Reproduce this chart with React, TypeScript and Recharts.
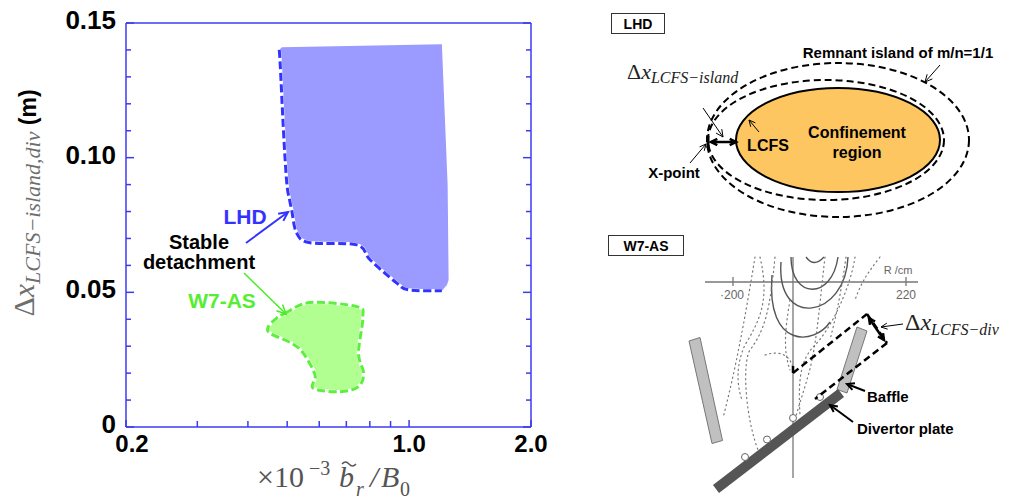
import React from "react";
import { ComposedChart, Scatter, XAxis, YAxis } from "recharts";

// axis ticks
const xTicks = [0.2, 0.3, 0.4, 0.5, 0.6, 0.7, 0.8, 0.9, 1.0, 2.0];
const xTickLabels: Record<string, string> = { "0.2": "0.2", "1": "1.0", "2": "2.0" };
const yTicks = [0, 0.01, 0.02, 0.03, 0.04, 0.05, 0.06, 0.07, 0.08, 0.09, 0.1, 0.11, 0.12, 0.13, 0.14, 0.15];
const yTickLabels: Record<number, string> = { 0: "0", 5: "0.05", 10: "0.10", 15: "0.15" };

// LHD stable detachment region: dashed boundary (top-left, down and along the bottom)
const lhdBoundary = [
  { x: 0.478, y: 0.14 },
  { x: 0.481, y: 0.1337 },
  { x: 0.49, y: 0.109 },
  { x: 0.499, y: 0.0905 },
  { x: 0.507, y: 0.0843 },
  { x: 0.513, y: 0.0806 },
  { x: 0.528, y: 0.0719 },
  { x: 0.57, y: 0.0684 },
  { x: 0.743, y: 0.0676 },
  { x: 0.802, y: 0.062 },
  { x: 0.933, y: 0.0534 },
  { x: 0.997, y: 0.0509 },
  { x: 1.205, y: 0.0506 },
];
// rest of the LHD region (no outline)
const lhdOpenEdge = [
  { x: 1.24, y: 0.0527 },
  { x: 1.252, y: 0.0546 },
  { x: 1.245, y: 0.09 },
  { x: 1.205, y: 0.1421 },
  { x: 0.485, y: 0.141 },
];
const lhdRegion = [...lhdBoundary, ...lhdOpenEdge];

// W7-AS stable detachment region (closed)
const w7asRegion = [
  { x: 0.494, y: 0.0422 },
  { x: 0.57, y: 0.0462 },
  { x: 0.743, y: 0.0447 },
  { x: 0.769, y: 0.041 },
  { x: 0.75, y: 0.0274 },
  { x: 0.772, y: 0.0199 },
  { x: 0.75, y: 0.015 },
  { x: 0.676, y: 0.0131 },
  { x: 0.58, y: 0.0144 },
  { x: 0.586, y: 0.0193 },
  { x: 0.548, y: 0.0274 },
  { x: 0.513, y: 0.0311 },
  { x: 0.454, y: 0.0348 },
  { x: 0.449, y: 0.0372 },
  { x: 0.471, y: 0.0404 },
];

const AXIS = "#3b3bf0";
const SANS = "'Liberation Sans', Arial, sans-serif";
const SERIF = "'Liberation Serif', 'Times New Roman', serif";

type Pt = { x: number; y: number };

// catmull-rom through pixel points
function smoothPath(pts: Pt[], closed: boolean): string {
  const n = pts.length;
  const get = (i: number) => (closed ? pts[(i + n) % n] : pts[Math.max(0, Math.min(n - 1, i))]);
  let d = `M${pts[0].x},${pts[0].y}`;
  const segs = closed ? n : n - 1;
  for (let i = 0; i < segs; i++) {
    const p0 = get(i - 1), p1 = get(i), p2 = get(i + 1), p3 = get(i + 2);
    const c1x = p1.x + (p2.x - p0.x) / 6;
    const c1y = p1.y + (p2.y - p0.y) / 6;
    const c2x = p2.x - (p3.x - p1.x) / 6;
    const c2y = p2.y - (p3.y - p1.y) / 6;
    d += ` C${c1x},${c1y} ${c2x},${c2y} ${p2.x},${p2.y}`;
  }
  return closed ? d + " Z" : d;
}

const regionShape = (fill: string, stroke: string, dashedCount?: number) => (props: any) => {
  const pts: Pt[] = props.points || [];
  if (pts.length < 3) return <g />;
  let fillPath: string;
  let edgePath: string;
  if (dashedCount === undefined) {
    fillPath = smoothPath(pts, true);
    edgePath = fillPath;
  } else {
    edgePath = smoothPath(pts.slice(0, dashedCount), false);
    fillPath = edgePath + " " + pts.slice(dashedCount).map((p) => `L${p.x},${p.y}`).join(" ") + " Z";
  }
  return (
    <g>
      <path d={fillPath} fill={fill} stroke="none" />
      <path d={edgePath} fill="none" stroke="#ffffff" strokeWidth={3.5} />
      <path d={edgePath} fill="none" stroke={stroke} strokeWidth={3} strokeDasharray="8 3.5" />
    </g>
  );
};

const noDot = () => <g />;

const BottomTick = (props: any) => {
  const { x, y, payload } = props;
  const label = xTickLabels[String(payload.value)];
  const isMajor = label !== undefined;
  return (
    <g>
      <line x1={x} y1={y} x2={x} y2={y - (isMajor ? 7 : 6)} stroke={AXIS} strokeWidth={1.5} />
      {label && (
        <text x={x + (payload.value === 0.2 ? 6 : 0)} y={y + 25} textAnchor="middle" fontFamily={SANS} fontWeight="bold" fontSize={24} fill="#000">
          {label}
        </text>
      )}
    </g>
  );
};

const TopTick = (props: any) => {
  const { x, y, payload } = props;
  const isMajor = xTickLabels[String(payload.value)] !== undefined;
  return <line x1={x} y1={y} x2={x} y2={y + (isMajor ? 7 : 6)} stroke={AXIS} strokeWidth={1.5} />;
};

const LeftTick = (props: any) => {
  const { x, y, payload } = props;
  const label = yTickLabels[Math.round(payload.value * 100)];
  return (
    <g>
      <line x1={x} y1={y} x2={x + (label ? 8 : 5)} y2={y} stroke={AXIS} strokeWidth={1.5} />
      {label && (
        <text x={x - 10} y={y + 6} textAnchor="end" fontFamily={SANS} fontWeight="bold" fontSize={26} fill="#000">
          {label}
        </text>
      )}
    </g>
  );
};

const RightTick = (props: any) => {
  const { x, y, payload } = props;
  const label = yTickLabels[Math.round(payload.value * 100)];
  return <line x1={x} y1={y} x2={x - (label ? 8 : 5)} y2={y} stroke={AXIS} strokeWidth={1.5} />;
};

function Arrow({ x1, y1, x2, y2, color, w = 1.5, both = false, head = 8 }: any) {
  const ang = Math.atan2(y2 - y1, x2 - x1);
  const hd = (x: number, y: number, a: number) => {
    const l = head, s = 0.45;
    return `M${x - l * Math.cos(a - s)},${y - l * Math.sin(a - s)} L${x},${y} L${x - l * Math.cos(a + s)},${y - l * Math.sin(a + s)}`;
  };
  return (
    <g stroke={color} strokeWidth={w} fill="none">
      <line x1={x1} y1={y1} x2={x2} y2={y2} />
      <path d={hd(x2, y2, ang)} />
      {both && <path d={hd(x1, y1, ang + Math.PI)} />}
    </g>
  );
}

function Overlay() {
  const blk = "#000";
  const dash = "7 4";
  return (
    <svg width={1011} height={502} style={{ position: "absolute", left: 0, top: 0, pointerEvents: "none" }}>
      {/* axis titles */}
      <text transform="translate(34,203) rotate(-90)" textAnchor="middle" fill="#6e6e6e" fontFamily={SERIF}>
        <tspan fontSize={30}>Δ</tspan>
        <tspan fontSize={30} fontStyle="italic">x</tspan>
        <tspan fontSize={22} fontStyle="italic" dy={6}>LCFS−island,div</tspan>
        <tspan fontSize={23} dy={-4} fontFamily={SANS} fontWeight="bold" fill="#000"> (m)</tspan>
      </text>
      <g fill="#555" fontFamily={SERIF}>
        <text x={257} y={487} fontSize={30}>×10</text>
        <text x={309} y={475} fontSize={20}>−3</text>
        <text x={339} y={487} fontSize={30} fontStyle="italic">b</text>
        <text x={356} y={496} fontSize={20} fontStyle="italic">r</text>
        <text x={370} y={487} fontSize={30} fontStyle="italic">/</text>
        <text x={381} y={487} fontSize={30} fontStyle="italic">B</text>
        <text x={400} y={496} fontSize={20}>0</text>
      </g>
      <path d="M342,464 q3.5,-4 7,0 t7,0" fill="none" stroke="#555" strokeWidth={1.4} />

      {/* in-plot annotations */}
      <text x={245} y={224} textAnchor="middle" fontFamily={SANS} fontWeight="bold" fontSize={21} fill="#3333ff">LHD</text>
      <Arrow x1={246} y1={243} x2={288} y2={212} color="#3333ff" w={2} head={10} />
      <text x={199} y={249} textAnchor="middle" fontFamily={SANS} fontWeight="bold" fontSize={20} fill="#000">Stable</text>
      <text x={199} y={269} textAnchor="middle" fontFamily={SANS} fontWeight="bold" fontSize={20} fill="#000">detachment</text>
      <Arrow x1={244} y1={273} x2={286} y2={314} color="#44ee22" w={1.5} head={10} />
      <text x={222} y={308} textAnchor="middle" fontFamily={SANS} fontWeight="bold" fontSize={21} fill="#55ee33">W7-AS</text>

      {/* LHD schematic */}
      <rect x={611.5} y={13.5} width={53} height={20} fill="#fff" stroke="#333" strokeWidth={1} />
      <text x={638} y={28.5} textAnchor="middle" fontFamily={SANS} fontWeight="bold" fontSize={14}>LHD</text>
      <ellipse cx={838} cy={140} rx={131} ry={77} fill="none" stroke={blk} strokeWidth={2} strokeDasharray={dash} />
      <ellipse cx={826} cy={140} rx={118} ry={60} fill="none" stroke={blk} strokeWidth={2} strokeDasharray={dash} />
      <ellipse cx={838} cy={140} rx={102} ry={52} fill="#fdc660" stroke={blk} strokeWidth={2} />
      <line x1={708} y1={136} x2={708} y2={148} stroke={blk} strokeWidth={3} />
      <Arrow x1={711} y1={142} x2={736} y2={142} color={blk} w={2.5} both head={7} />
      <Arrow x1={703} y1={108} x2={723} y2={137} color={blk} w={1} head={8} />
      <Arrow x1={940} y1={65} x2={925} y2={82} color={blk} w={1} head={8} />
      <Arrow x1={759} y1={132} x2={749} y2={120} color={blk} w={1} head={7} />
      <Arrow x1={690} y1={163} x2={706} y2={144} color={blk} w={1} head={7} />
      <text x={898} y={58} textAnchor="middle" fontFamily={SANS} fontWeight="bold" fontSize={15}>Remnant island of m/n=1/1</text>
      <text x={627} y={79} fontFamily={SERIF} fill="#222">
        <tspan fontSize={22}>Δ</tspan>
        <tspan fontSize={22} fontStyle="italic">x</tspan>
        <tspan fontSize={16} fontStyle="italic" dy={4}>LCFS−island</tspan>
      </text>
      <text x={768} y={151} textAnchor="middle" fontFamily={SANS} fontWeight="bold" fontSize={16}>LCFS</text>
      <text x={857} y={138} textAnchor="middle" fontFamily={SANS} fontWeight="bold" fontSize={16}>Confinement</text>
      <text x={857} y={158} textAnchor="middle" fontFamily={SANS} fontWeight="bold" fontSize={16}>region</text>
      <text x={674} y={178} textAnchor="middle" fontFamily={SANS} fontWeight="bold" fontSize={15}>X-point</text>

      {/* W7-AS schematic */}
      <rect x={608.5} y={235.5} width={75} height={20} fill="#fff" stroke="#333" strokeWidth={1} />
      <text x={646} y={250.5} textAnchor="middle" fontFamily={SANS} fontWeight="bold" fontSize={14}>W7-AS</text>
      <g stroke="#777" strokeWidth={1.3} fill="none">
        <line x1={705} y1={282} x2={918} y2={282} />
        <line x1={733} y1={277} x2={733} y2={286} />
        <line x1={906} y1={277} x2={906} y2={286} />
        <line x1={793} y1={257} x2={793} y2={478} />
      </g>
      <text x={732} y={299} textAnchor="middle" fontFamily={SANS} fontSize={12} fill="#666">·200</text>
      <text x={906} y={299} textAnchor="middle" fontFamily={SANS} fontSize={12} fill="#666">220</text>
      <text x={898} y={274} textAnchor="middle" fontFamily={SANS} fontSize={11} fill="#666">R /cm</text>
      {/* flux surfaces */}
      <g stroke="#555" strokeWidth={1.4} fill="none">
        <path d="M806,257 Q814,268 824,257" />
        <path d="M791,257 C791,300 832,300 838,257" />
        <path d="M781,262 C776,330 846,318 848,257" />
        <path d="M772,275 C766,350 815,345 830,322" />
      </g>
      <g stroke="#777" strokeWidth={1.2} fill="none" strokeDasharray="1.2 3.5" strokeLinecap="round">
        <path d="M755,257 C748,300 738,360 723,418" />
        <path d="M760,257 C770,300 760,320 745,345 C738,360 735,380 742,400" />
        <path d="M765,355 C780,350 790,355 793,368" />
        <path d="M775,257 C770,310 765,330 750,350 C742,362 745,420 760,455" />
        <path d="M855,257 C850,290 830,330 815,345 C800,360 798,380 800,415" />
        <path d="M846,257 C840,300 835,320 830,340" />
        <path d="M825,257 C820,300 818,330 812,360 C808,380 800,400 795,420" />
        <path d="M790,300 C785,330 783,350 790,370" />
        <path d="M880,257 C870,270 862,280 855,300" />
      </g>
      {/* plates */}
      <polygon points="689,341 700,337.5 722.5,440.5 712,443.5" fill="#c0c0c0" stroke="#777" strokeWidth={1} />
      <polygon points="857,327 867,331 847,393 837,389.5" fill="#c0c0c0" stroke="#777" strokeWidth={1} />
      <line x1={716} y1={489} x2={841} y2={393} stroke="#555" strokeWidth={10} />
      {[[745, 457], [767, 439.5], [793, 418], [820, 397]].map(([cx, cy], i) => (
        <circle key={i} cx={cx} cy={cy} r={3.5} fill="#fff" stroke="#666" strokeWidth={1} />
      ))}
      <g stroke={blk} strokeWidth={2.5} strokeDasharray="7 4" fill="none">
        <line x1={793} y1={373} x2={867} y2={314} />
        <line x1={867} y1={314} x2={887} y2={343} />
        <line x1={887} y1={343} x2={815} y2={399} />
        <line x1={793} y1={373} x2={793} y2={366} />
      </g>
      <Arrow x1={869} y1={318} x2={884} y2={340} color={blk} w={2.5} both head={7} />
      <Arrow x1={903} y1={324} x2={881} y2={327} color={blk} w={1} head={7} />
      <text x={905} y={330} fontFamily={SERIF} fill="#222">
        <tspan fontSize={24}>Δ</tspan>
        <tspan fontSize={24} fontStyle="italic">x</tspan>
        <tspan fontSize={16} fontStyle="italic" dy={5}>LCFS−div</tspan>
      </text>
      <Arrow x1={865} y1={391} x2={847} y2={384} color={blk} w={2} head={8} />
      <Arrow x1={853} y1={422} x2={830} y2={405} color={blk} w={2} head={8} />
      <text x={867} y={402} fontFamily={SANS} fontWeight="bold" fontSize={15}>Baffle</text>
      <text x={857} y={434} fontFamily={SANS} fontWeight="bold" fontSize={15}>Divertor plate</text>
    </svg>
  );
}

export default function App() {
  return (
    <div style={{ position: "absolute", left: 0, top: 0, width: 1011, height: 502, background: "#fff" }}>
      <div style={{ position: "absolute", left: 0, top: 0 }}>
        <ComposedChart width={560} height={502} margin={{ top: 0, right: 0, bottom: 0, left: 0 }}>
          <XAxis
            xAxisId={0}
            dataKey="x"
            type="number"
            scale="log"
            domain={[0.2, 2]}
            allowDataOverflow
            ticks={xTicks}
            interval={0}
            height={75}
            tickSize={0}
            tickMargin={0}
            tickLine={false}
            tick={BottomTick}
            axisLine={{ stroke: AXIS, strokeWidth: 1.5 }}
          />
          <XAxis
            xAxisId="top"
            orientation="top"
            type="number"
            scale="log"
            domain={[0.2, 2]}
            allowDataOverflow
            ticks={xTicks}
            interval={0}
            height={23}
            tickSize={0}
            tickMargin={0}
            tickLine={false}
            tick={TopTick}
            axisLine={{ stroke: AXIS, strokeWidth: 1.5 }}
          />
          <YAxis
            yAxisId={0}
            dataKey="y"
            type="number"
            domain={[0, 0.15]}
            allowDataOverflow
            ticks={yTicks}
            interval={0}
            width={126}
            tickSize={0}
            tickMargin={0}
            tickLine={false}
            tick={LeftTick}
            axisLine={{ stroke: AXIS, strokeWidth: 1.5 }}
          />
          <YAxis
            yAxisId="right"
            orientation="right"
            type="number"
            domain={[0, 0.15]}
            allowDataOverflow
            ticks={yTicks}
            interval={0}
            width={29}
            tickSize={0}
            tickMargin={0}
            tickLine={false}
            tick={RightTick}
            axisLine={{ stroke: AXIS, strokeWidth: 1.5 }}
          />
          <Scatter
            name="LHD"
            data={lhdRegion}
            fill="#9a9aff"
            shape={noDot}
            line={regionShape("#9a9aff", "#3333ff", lhdBoundary.length)}
            isAnimationActive={false}
          />
          <Scatter
            name="W7-AS"
            data={w7asRegion}
            fill="#b0ff90"
            shape={noDot}
            line={regionShape("#b0ff90", "#5cf03c")}
            isAnimationActive={false}
          />
        </ComposedChart>
      </div>
      <Overlay />
    </div>
  );
}
